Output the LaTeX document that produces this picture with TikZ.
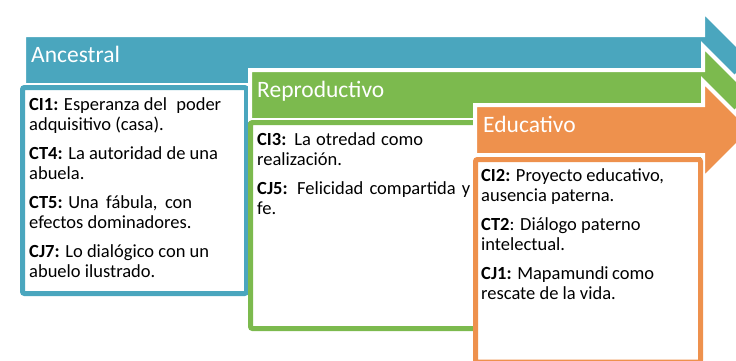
\documentclass[tikz,border=0pt]{standalone}
\usepackage{fontspec}
\setmainfont{Carlito}
\usepackage{xcolor}
\definecolor{ancblue}{HTML}{4AA6BE}
\definecolor{repgreen}{HTML}{7CBA4E}
\definecolor{eduorange}{HTML}{EE914D}
\tikzset{
	band/.style={draw=white, line width=4pt, line join=miter},
	card/.style={draw=#1, line width=5pt, fill=white, rounded corners=2pt},
	stage/.style={anchor=base west, inner sep=0pt, text=white, font=\fontsize{23.5}{28}\selectfont},
	cardtext/.style={anchor=north west, inner sep=0pt, align=left, font=\fontsize{18.5}{20}\selectfont}
}

\begin{document}
\begin{tikzpicture}[x=1pt,y=-1pt]
	\useasboundingbox (0,0) rectangle (736,360);
	\filldraw[band, fill=ancblue] (24,35) -- (703,35) -- (703,11) -- (752,60) -- (703,109) -- (703,85) -- (24,85) -- cycle;
	\node[stage] (anctitle) at (31,62) {Ancestral};
	\draw[card=ancblue] (22.5,87.5) rectangle (246.5,293.5);
	\node[cardtext] (anctext) at (29,97) {\makebox[192pt][l]{\textbf{CI1:} Esperanza del\hfill poder}\\adquisitivo (casa).\\[9pt]
		\textbf{CT4:} La autoridad de una\\abuela.\\[9pt]
		\makebox[163pt][l]{\textbf{CT5:} Una\hfill fábula,\hfill con}\\efectos dominadores.\\[9pt]
		\textbf{CJ7:} Lo dialógico con un\\abuelo ilustrado.};
	\filldraw[band, fill=repgreen] (250,70) -- (703,70) -- (703,46) -- (752,95) -- (703,144) -- (703,120) -- (250,120) -- cycle;
	\node[stage] (reptitle) at (257,97) {Reproductivo};
	\draw[card=repgreen] (250.5,122.5) rectangle (700,328.5);
	\node[cardtext] (reptext) at (257,132) {\makebox[166pt][s]{\textbf{CI3:} La otredad como}\\realización.\\[9pt]
		\makebox[213pt][s]{\textbf{CJ5:} Felicidad compartida y}\\fe.};
	\filldraw[band, fill=eduorange] (475,105) -- (703,105) -- (703,81) -- (752,130) -- (703,179) -- (703,155) -- (475,155) -- cycle;
	\node[stage] (edutitle) at (483,132) {Educativo};
	\draw[card=eduorange] (475.5,159.5) rectangle (700.5,362);
	\node[cardtext] (edutext) at (481,168) {\textbf{CI2:} Proyecto educativo,\\ausencia paterna.\\[9pt]
		\textbf{CT2}: Diálogo paterno\\intelectual.\\[9pt]
		\makebox[173pt][l]{\textbf{CJ1:} Mapamundi\hfill como}\\rescate de la vida.};
\end{tikzpicture}
\end{document}
